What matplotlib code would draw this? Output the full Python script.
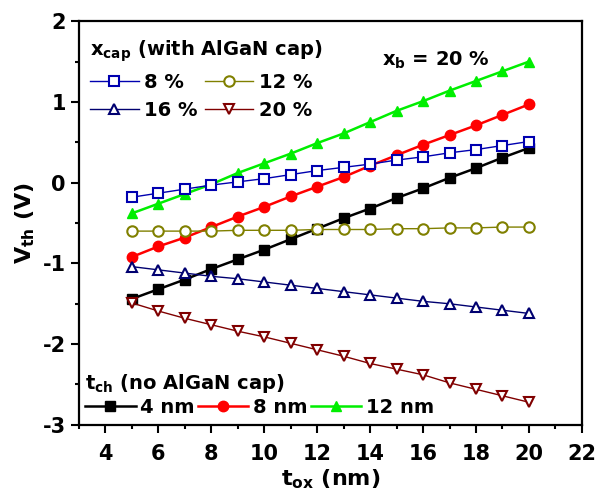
import matplotlib
matplotlib.use("Agg")
import matplotlib.pyplot as plt
from matplotlib.ticker import MultipleLocator

plt.rcParams['font.family'] = ['DejaVu Sans']
plt.rcParams['font.weight'] = 'bold'
plt.rcParams['axes.unicode_minus'] = False
plt.rcParams['mathtext.fontset'] = 'custom'
plt.rcParams['mathtext.rm'] = 'DejaVu Sans:bold'
plt.rcParams['mathtext.it'] = 'DejaVu Sans:bold'
plt.rcParams['mathtext.bf'] = 'DejaVu Sans:bold'

tox = [5, 6, 7, 8, 9, 10, 11, 12, 13, 14, 15, 16, 17, 18, 19, 20]

# t_ch series (no AlGaN cap)
tch_4 = [-1.44, -1.32, -1.20, -1.07, -0.95, -0.83, -0.70, -0.57, -0.44, -0.32, -0.19, -0.07, 0.06, 0.18, 0.31, 0.43]
tch_8 = [-0.92, -0.79, -0.68, -0.55, -0.42, -0.30, -0.17, -0.05, 0.07, 0.21, 0.34, 0.47, 0.59, 0.71, 0.84, 0.97]
tch_12 = [-0.38, -0.26, -0.14, -0.02, 0.12, 0.24, 0.36, 0.49, 0.61, 0.75, 0.89, 1.01, 1.14, 1.26, 1.38, 1.50]

# x_cap series (with AlGaN cap)
xcap_8 = [-0.18, -0.13, -0.08, -0.03, 0.01, 0.05, 0.10, 0.15, 0.19, 0.23, 0.28, 0.32, 0.37, 0.41, 0.46, 0.51]
xcap_12 = [-0.60, -0.60, -0.60, -0.60, -0.59, -0.59, -0.59, -0.58, -0.58, -0.58, -0.57, -0.57, -0.56, -0.56, -0.55, -0.55]
xcap_16 = [-1.04, -1.08, -1.12, -1.16, -1.19, -1.23, -1.27, -1.31, -1.35, -1.39, -1.43, -1.47, -1.50, -1.54, -1.58, -1.62]
xcap_20 = [-1.49, -1.59, -1.68, -1.76, -1.84, -1.91, -1.99, -2.07, -2.15, -2.24, -2.31, -2.38, -2.48, -2.56, -2.64, -2.72]

tch_labels = ['4 nm', '8 nm', '12 nm']
xcap_labels = ['8 %', '12 %', '16 %', '20 %']

fig = plt.figure(figsize=(5.98, 4.94), dpi=100)
ax = fig.add_axes([0.132, 0.140, 0.841, 0.817])

h_tch = []
for ys, c, m, lab in zip([tch_4, tch_8, tch_12], ['black', '#ff0000', '#00ee00'], ['s', 'o', '^'], tch_labels):
    l, = ax.plot(tox, ys, color=c, marker=m, ms=7.5, lw=1.8, mec=c, mfc=c, label=lab, zorder=3)
    h_tch.append(l)

h_xcap = []
for ys, c, m, lab in zip([xcap_8, xcap_12, xcap_16, xcap_20], ['#0000b0', '#808000', '#000070', '#800000'], ['s', 'o', '^', 'v'], xcap_labels):
    l, = ax.plot(tox, ys, color=c, marker=m, ms=7.5, lw=1.0, mec=c, mfc='white', mew=1.5, label=lab, zorder=4)
    h_xcap.append(l)

ax.set_xlim(3, 22)
ax.set_ylim(-3, 2)
ax.xaxis.set_major_locator(MultipleLocator(2))
ax.xaxis.set_minor_locator(MultipleLocator(1))
ax.yaxis.set_major_locator(MultipleLocator(1))
ax.yaxis.set_minor_locator(MultipleLocator(0.5))
ax.set_xticks(range(4, 23, 2))
ax.tick_params(which='major', direction='out', length=5.5, width=1.5, labelsize=15, pad=8)
ax.tick_params(axis='y', which='major', pad=4)
ax.tick_params(which='minor', direction='out', length=3, width=1.5)
for s in ax.spines.values():
    s.set_linewidth(1.6)

ax.set_xlabel(r'$\mathrm{t_{ox}}$ (nm)', fontsize=16, fontweight='bold', labelpad=3)
ax.set_ylabel(r'$\mathrm{V_{th}}$ (V)', fontsize=16, fontweight='bold', labelpad=4)

# legend order: row-wise 8 %, 12 % / 16 %, 20 % (matplotlib fills columns first)
order = [0, 2, 1, 3]
leg1 = ax.legend(handles=[h_xcap[i] for i in order], ncol=2, loc='upper left', bbox_to_anchor=(-0.005, 0.99),
                 title=r'$\mathrm{x_{cap}}$ (with AlGaN cap)', frameon=False,
                 prop={'size': 14, 'weight': 'bold'}, title_fontproperties={'size': 14, 'weight': 'bold'},
                 alignment='left', handlelength=2.5, handletextpad=0.3, columnspacing=0.35,
                 labelspacing=0.45, borderaxespad=0.3)
ax.add_artist(leg1)

ax.legend(handles=h_tch, ncol=3, loc='lower left', bbox_to_anchor=(-0.015, -0.015),
          title=r'$\mathrm{t_{ch}}$ (no AlGaN cap)', frameon=False,
          prop={'size': 14, 'weight': 'bold'}, title_fontproperties={'size': 14, 'weight': 'bold'},
          alignment='left', handlelength=2.6, handletextpad=0.25, columnspacing=0.15,
          labelspacing=0.15, borderaxespad=0.3)

ax.text(0.603, 0.89, r'$\mathrm{x_{b}}$ = 20 %', transform=ax.transAxes, fontsize=14,
        fontweight='bold', va='baseline', ha='left')

fig.savefig('out.png', dpi=100)
